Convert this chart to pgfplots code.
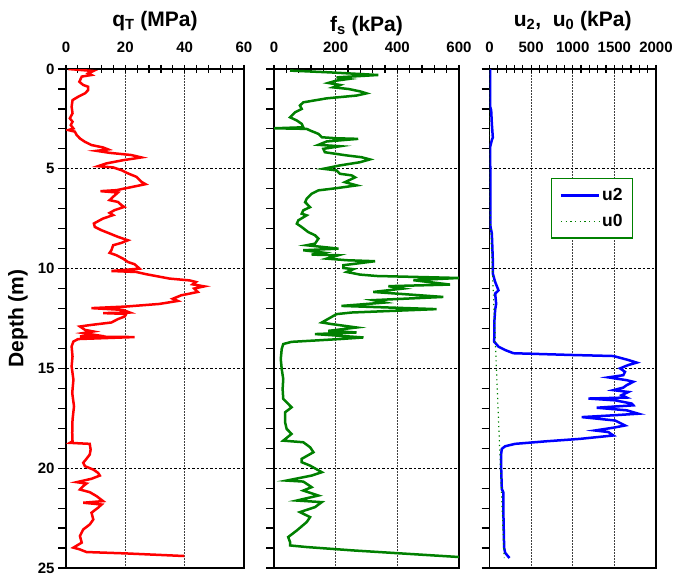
\documentclass[border=0pt]{standalone}
\usepackage{pgfplots}
\pgfplotsset{compat=1.18}
\usepackage{fontspec}
\setmainfont{Liberation Sans}

\definecolor{cptred}{RGB}{255,0,0}
\definecolor{cptgreen}{RGB}{0,128,0}
\definecolor{cptblue}{RGB}{0,0,255}

\newcommand{\tickfont}{\fontsize{15}{15}\selectfont\bfseries}
\newcommand{\titlefont}{\fontsize{21}{21}\selectfont\bfseries}
\newcommand{\B}[1]{\textbf{#1}}

\pgfplotsset{
  cpt/.style={
    scale only axis,
    height=499pt,
    ymin=0, ymax=25, y dir=reverse,
    ytick={0,5,...,25},
    minor y tick num=4,
    xtick pos=upper, xticklabel pos=upper,
    ytick pos=left,
    tick align=outside,
    major tick length=8pt, minor tick length=8pt,
    tick style={black, line width=1.2pt},
    x tick style={yshift=-4pt},
    minor x tick num=4,
    scaled x ticks=false,
    xmajorgrids, ymajorgrids,
    every axis x grid/.style={black!75, line width=0.9pt, dash pattern=on 1.5pt off 1.5pt},
    every axis y grid/.style={black, line width=0.9pt, dash pattern=on 2.5pt off 2pt},
    axis line style={line width=1.8pt},
    tick label style={font=\tickfont},
    xticklabel style={yshift=5pt},
    title style={font=\titlefont, anchor=base, at={(axis description cs:0.5,1)}},
  },
}

\begin{document}
\begin{tikzpicture}
\path[use as bounding box] (0,0) rectangle (673pt,575pt);

% cone resistance
\begin{axis}[cpt, at={(66pt,7pt)}, anchor=south west, width=178pt,
  xmin=0, xmax=60, xtick={0,20,40,60}, xticklabels={\B{0},\B{20},\B{40},\B{60}},
  yticklabels={\B{0},\B{5},\B{10},\B{15},\B{20},\B{25}},
  title={q\textsubscript{T} (MPa)}, title style={yshift=37pt},
  ylabel={Depth (m)},
  ylabel style={font=\titlefont, at={(axis description cs:-0.27,0.5)}, anchor=center}]
\addplot[cptred, line width=2.5pt] coordinates {
(0.8,0.00) (9.2,0.10) (7.5,0.22) (8.6,0.30) (5.3,0.38) (4.5,0.64) (5.8,0.80)
(7.5,0.89) (7.5,1.05) (6.4,1.22) (4.1,1.39) (2.2,1.56) (1.9,1.89) (2.2,2.22)
(1.3,2.47) (2.2,2.64) (1.6,2.81) (2.5,2.98) (0.8,3.06) (3.0,3.14) (3.6,3.31)
(4.7,3.48) (6.4,3.65) (8.6,3.81) (12.5,3.93) (14.2,4.03) (10.3,4.10) (14.7,4.20)
(22.0,4.31) (25.4,4.43) (19.2,4.57) (13.6,4.73) (10.8,4.87) (15.9,4.93)
(18.7,5.07) (20.9,5.23) (23.7,5.40) (25.4,5.65) (26.8,5.77) (22.6,5.90)
(17.0,6.07) (11.6,6.12) (17.5,6.19) (15.9,6.40) (14.7,6.57) (17.5,6.66)
(18.7,6.82) (19.6,6.91) (16.4,7.07) (14.7,7.21) (15.9,7.32) (12.5,7.49)
(9.4,7.74) (9.7,7.91) (12.0,8.08) (14.7,8.24) (17.5,8.41) (20.9,8.58)
(18.7,8.71) (15.9,8.83) (15.3,9.08) (14.7,9.21) (17.0,9.33) (19.2,9.50)
(20.9,9.67) (23.1,9.78) (24.8,10.00) (15.3,10.12) (23.7,10.17) (27.0,10.28)
(34.9,10.50) (41.6,10.59) (43.8,10.67) (42.7,10.79) (46.6,10.89) (43.2,11.00)
(44.4,11.17) (38.8,11.34) (36.0,11.51) (37.7,11.62) (31.5,11.77) (20.3,11.90)
(8.6,11.98) (19.2,12.07) (21.5,12.20) (12.5,12.23) (20.3,12.27) (19.8,12.40)
(17.5,12.53) (15.3,12.70) (8.6,12.82) (4.7,12.90) (6.4,13.07) (9.2,13.15)
(5.8,13.23) (9.7,13.32) (4.7,13.40) (23.1,13.43) (4.1,13.53) (2.5,13.65)
(1.9,13.90) (2.2,14.40) (1.9,14.90) (2.5,15.57) (2.1,16.23) (2.7,16.90)
(2.2,17.57) (2.1,18.23) (2.2,18.65) (1.3,18.73) (8.0,18.78) (8.3,19.07)
(8.0,19.32) (6.9,19.53) (5.8,19.73) (6.4,19.90) (9.2,20.07) (10.8,20.23)
(11.4,20.37) (8.6,20.53) (3.6,20.70) (6.9,20.77) (5.8,20.90) (4.7,21.07)
(8.0,21.20) (10.3,21.40) (12.5,21.65) (5.8,21.73) (12.0,21.82) (10.8,21.98)
(8.6,22.23) (9.2,22.57) (8.0,22.82) (5.8,23.07) (4.7,23.40) (5.3,23.73)
(2.5,23.98) (4.7,24.07) (6.9,24.20) (20.3,24.27) (39.9,24.40)
};
\end{axis}

% sleeve friction
\begin{axis}[cpt, at={(274pt,7pt)}, anchor=south west, width=185pt,
  xmin=0, xmax=600, xtick={0,200,400,600},
  xticklabels={\B{0},\B{200},\B{400},\B{600}},
  yticklabels={},
  title={f\textsubscript{s} (kPa)}, title style={yshift=32pt}]
\addplot[cptgreen, line width=2.5pt] coordinates {
(52,0.08) (182,0.17) (338,0.30) (203,0.42) (241,0.50) (203,0.58) (176,0.70)
(214,0.80) (192,0.92) (241,1.00) (279,1.12) (300,1.22) (268,1.33) (171,1.47)
(95,1.67) (84,1.83) (90,2.00) (68,2.17) (52,2.42) (74,2.58) (90,2.75)
(95,2.92) (0,2.97) (106,3.00) (117,3.08) (144,3.25) (155,3.42) (203,3.47)
(273,3.50) (171,3.63) (144,3.80) (214,3.87) (160,4.00) (165,4.17) (236,4.33)
(284,4.42) (311,4.53) (279,4.67) (214,4.83) (160,5.00) (203,5.08) (214,5.25)
(252,5.33) (263,5.43) (230,5.67) (268,5.83) (203,5.97) (144,6.08) (122,6.25)
(106,6.50) (101,6.67) (117,6.92) (95,7.08) (90,7.25) (106,7.33) (79,7.58)
(74,7.75) (90,7.92) (111,8.17) (133,8.33) (144,8.50) (133,8.75) (106,8.83)
(209,9.00) (95,9.08) (160,9.20) (122,9.30) (209,9.33) (171,9.50) (236,9.58)
(328,9.63) (225,9.83) (225,9.97) (257,10.03) (236,10.17) (279,10.30)
(333,10.37) (600,10.47) (452,10.58) (571,10.80) (371,10.88) (419,11.00)
(322,11.17) (549,11.42) (322,11.58) (360,11.70) (219,11.87) (527,12.03)
(252,12.20) (203,12.28) (155,12.70) (187,12.78) (268,12.95) (176,13.12)
(268,13.20) (133,13.28) (290,13.45) (214,13.53) (57,13.67) (30,13.78)
(25,14.03) (22,14.53) (25,15.03) (30,15.53) (28,16.03) (30,16.53) (57,16.95)
(36,17.20) (36,17.70) (41,18.03) (57,18.28) (30,18.62) (95,18.70) (117,18.95)
(128,19.20) (90,19.53) (90,19.70) (117,19.87) (155,20.20) (122,20.37)
(41,20.62) (95,20.67) (122,20.95) (95,21.12) (144,21.37) (74,21.62)
(155,21.70) (133,21.95) (84,22.20) (117,22.45) (106,22.70) (74,23.12)
(46,23.45) (52,23.70) (52,23.87) (106,23.95) (257,24.12) (600,24.45)
};
\end{axis}

% pore pressures
\begin{axis}[cpt, at={(489.5pt,7pt)}, anchor=south west, width=166.5pt,
  xmin=0, xmax=2000, xtick={0,500,1000,1500,2000},
  xticklabels={\B{0},\B{500},\B{1000},\B{1500},\B{2000}},
  yticklabels={},
  title={u\textsubscript{2},\ \ u\textsubscript{0} (kPa)}, title style={yshift=37pt},
  legend style={at={(0.369,0.782)}, anchor=north west, draw=cptgreen,
    line width=1.5pt, font=\fontsize{17.5}{17.5}\selectfont\bfseries, fill=white,
    row sep=8pt, inner xsep=8pt, inner ysep=8pt},
  legend cell align=left,
  legend image code/.code={\draw[#1] (0pt,0pt) -- (38pt,0pt);}]
\addplot[cptblue, line width=2.5pt] coordinates {
(8,0.00) (8,1.89) (20,2.06) (28,2.73) (40,3.43) (28,3.56) (8,3.90) (12,7.91)
(28,8.24) (40,9.58) (40,10.25) (68,10.67) (108,11.09) (68,11.25) (80,11.76)
(68,12.06) (60,12.56) (60,13.07) (56,13.66) (108,13.91) (188,14.08)
(288,14.24) (1008,14.33) (1488,14.38) (1668,14.58) (1768,14.71) (1668,14.83)
(1568,15.00) (1628,15.17) (1608,15.34) (1428,15.45) (1648,15.59) (1728,15.67)
(1648,15.84) (1608,15.96) (1488,16.09) (1668,16.18) (1588,16.34) (1648,16.46)
(1188,16.51) (1508,16.60) (1708,16.76) (1728,16.85) (1288,16.97) (1648,17.10)
(1788,17.27) (1488,17.35) (1108,17.44) (1508,17.61) (1628,17.86) (1488,17.97)
(1268,18.11) (1428,18.19) (1488,18.36) (1088,18.53) (688,18.65) (308,18.78)
(188,18.90) (148,19.03) (140,19.29) (140,19.96) (148,21.05) (168,21.22)
(168,22.48) (176,23.99) (188,24.24) (240,24.50)
};
\addlegendentry{\B{u2}}
\addplot[cptgreen, line width=1.2pt, dash pattern=on 1.2pt off 3.5pt] coordinates {
(0,0) (0,6.5) (176,24.5)
};
\addlegendentry{\B{u0}}
\end{axis}
\end{tikzpicture}
\end{document}
